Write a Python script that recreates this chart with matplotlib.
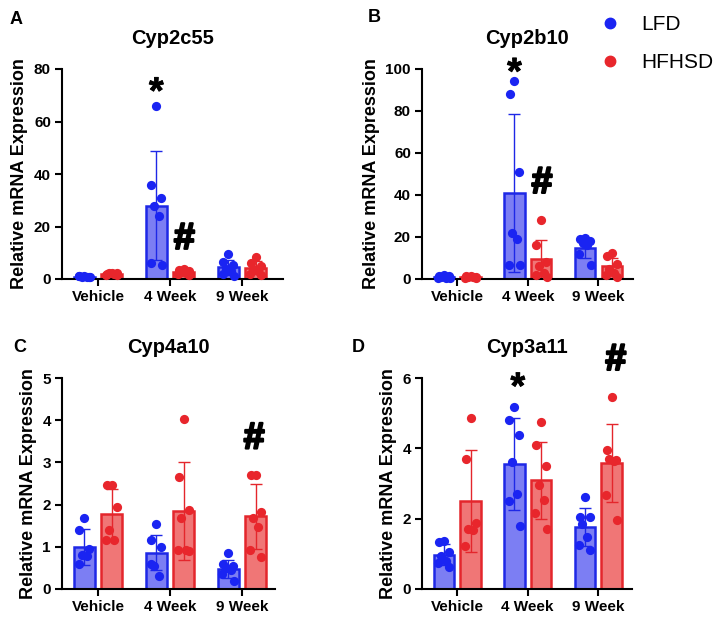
import numpy as np
import matplotlib
matplotlib.use("Agg")
import matplotlib.pyplot as plt
import matplotlib.patheffects as pe
from matplotlib.lines import Line2D

plt.rcParams['font.family'] = ['Liberation Sans', 'DejaVu Sans']
plt.rcParams['font.weight'] = 'bold'

groups = ["Vehicle", "4 Week", "9 Week"]
genes = ["Cyp2c55", "Cyp2b10", "Cyp4a10", "Cyp3a11"]
letters = ["A", "B", "C", "D"]

# Cyp2c55
c55_lfd_pts = [[1.3, 1.0, 0.8, 0.6, 0.9, 1.1, 0.7],
               [66, 36, 31, 28, 24, 6, 5.5],
               [9.5, 6.5, 5.5, 4.0, 3.0, 2.0, 1.0]]
c55_hfhsd_pts = [[2.3, 2.0, 1.7, 2.2, 1.9, 1.6, 2.1],
                 [4.0, 3.5, 3.0, 2.5, 2.2, 1.8, 1.5],
                 [8.5, 6.2, 5.0, 4.0, 3.0, 2.0, 1.5]]
c55_lfd_mean = [0.9, 28.0, 4.5]
c55_lfd_sd = [0.25, 20.6, 2.8]
c55_hfhsd_mean = [2.0, 2.6, 4.3]
c55_hfhsd_sd = [0.25, 0.9, 2.5]

# Cyp2b10
b10_lfd_pts = [[1.8, 1.5, 1.2, 1.0, 0.7, 0.5, 0.3],
               [94.5, 88, 51, 22, 19, 6.5, 6.5],
               [19.5, 19, 18, 17, 16, 12, 6.5]]
b10_hfhsd_pts = [[1.5, 1.3, 1.1, 1.0, 0.8, 0.6, 0.5],
                 [28, 16, 8, 6, 3, 2, 1],
                 [12.5, 11, 7, 5, 3, 2, 1]]
b10_lfd_mean = [1.0, 41.0, 14.6]
b10_lfd_sd = [0.5, 37.5, 4.5]
b10_hfhsd_mean = [1.0, 9.5, 6.0]
b10_hfhsd_sd = [0.35, 9.2, 4.0]

# Cyp4a10
a10_lfd_pts = [[1.68, 1.4, 0.95, 0.8, 0.78, 0.6],
               [1.55, 1.15, 1.0, 0.55, 0.3, 0.6],
               [0.85, 0.6, 0.55, 0.5, 0.45, 0.35, 0.18]]
a10_hfhsd_pts = [[2.46, 2.47, 1.94, 1.4, 1.17, 1.17],
                 [4.03, 2.65, 1.88, 1.68, 0.92, 0.92, 0.9],
                 [2.69, 2.71, 1.82, 1.68, 1.48, 0.93, 0.77]]
a10_lfd_mean = [1.0, 0.86, 0.47]
a10_lfd_sd = [0.42, 0.41, 0.21]
a10_hfhsd_mean = [1.77, 1.85, 1.72]
a10_hfhsd_sd = [0.6, 1.17, 0.78]

# Cyp3a11
a11_lfd_pts = [[1.37, 1.33, 1.05, 0.95, 0.8, 0.75, 0.62],
               [5.18, 4.8, 4.39, 3.6, 2.69, 2.49, 1.78],
               [2.61, 2.06, 2.06, 1.85, 1.49, 1.25, 1.12]]
a11_hfhsd_pts = [[4.87, 3.71, 1.89, 1.7, 1.68, 1.21],
                 [4.75, 4.09, 3.51, 2.95, 2.53, 2.15, 1.7],
                 [5.46, 3.95, 3.67, 3.7, 3.65, 2.67, 1.95]]
a11_lfd_mean = [0.98, 3.55, 1.76]
a11_lfd_sd = [0.29, 1.3, 0.55]
a11_hfhsd_mean = [2.5, 3.09, 3.58]
a11_hfhsd_sd = [1.45, 1.09, 1.1]

y_max = [80, 100, 5, 6]
y_step = [20, 20, 1, 2]

# significance marks: (panel, text, x, y)
marks = [(0, "*", 0.81, 67), (0, "#", 1.2, 11.5),
         (1, "*", 0.81, 93), (1, "#", 1.2, 41),
         (2, "#", 2.17, 3.33),
         (3, "*", 0.86, 5.42), (3, "#", 2.25, 6.23)]

blue_edge = "#1e28e6"
blue_fill = "#7c7ef3"
blue_pt = "#1a24f2"
red_edge = "#e4262c"
red_fill = "#f07676"
red_pt = "#e8262c"

W, H = 720, 620


def px_rect(l, t, r, b):
    return [l / W, 1 - b / H, (r - l) / W, (b - t) / H]


def jitter(n):
    pat = [0.0, -0.07, 0.07, -0.035, 0.035, -0.08, 0.08]
    return np.array(pat[:n])


def draw_panel(ax, title, lfd_pts, hfhsd_pts, lfd_mean, lfd_sd, hf_mean, hf_sd, ymax, ystep, xmax):
    x = np.arange(len(groups))
    off = 0.19
    bw = 0.29
    ax.bar(x - off, lfd_mean, bw, color=blue_fill, edgecolor=blue_edge, linewidth=1.8, zorder=1)
    ax.bar(x + off, hf_mean, bw, color=red_fill, edgecolor=red_edge, linewidth=1.8, zorder=1)
    ax.errorbar(x - off, lfd_mean, yerr=lfd_sd, fmt='none', ecolor=blue_edge,
                elinewidth=1, capsize=4, capthick=1, zorder=2)
    ax.errorbar(x + off, hf_mean, yerr=hf_sd, fmt='none', ecolor=red_edge,
                elinewidth=1, capsize=4, capthick=1, zorder=2)
    for i in range(len(groups)):
        p = np.array(lfd_pts[i])
        ax.scatter(x[i] - off + jitter(len(p)), p, s=44, color=blue_pt, zorder=3, clip_on=False, linewidths=0)
        p = np.array(hfhsd_pts[i])
        ax.scatter(x[i] + off + jitter(len(p)), p, s=44, color=red_pt, zorder=3, clip_on=False, linewidths=0)

    ax.set_xlim(-0.5, xmax)
    ax.set_ylim(0, ymax)
    ax.set_yticks(np.arange(0, ymax + ystep / 2, ystep))
    ax.set_xticks(x)
    ax.set_xticklabels(groups)
    ax.spines['top'].set_visible(False)
    ax.spines['right'].set_visible(False)
    ax.spines['left'].set_linewidth(1.5)
    ax.spines['bottom'].set_linewidth(1.5)
    ax.tick_params(axis='both', width=1.5, length=5, labelsize=11, pad=3)
    for lab in ax.get_xticklabels() + ax.get_yticklabels():
        lab.set_fontweight('bold')
    ax.set_ylabel("Relative mRNA Expression", fontsize=13, fontweight='bold', labelpad=4)
    ax.set_title(title, fontsize=14.5, fontweight='bold', pad=18)


fig = plt.figure(figsize=(7.2, 6.2), dpi=100)

rects = [px_rect(62, 69, 283, 279), px_rect(422, 69, 633, 279),
         px_rect(62, 378, 275, 589), px_rect(422, 378, 632, 589)]
xmaxes = [2.57, 2.49, 2.46, 2.48]
letter_pos = [(10, 20), (368, 18), (13, 348), (352, 348)]

data = [(c55_lfd_pts, c55_hfhsd_pts, c55_lfd_mean, c55_lfd_sd, c55_hfhsd_mean, c55_hfhsd_sd),
        (b10_lfd_pts, b10_hfhsd_pts, b10_lfd_mean, b10_lfd_sd, b10_hfhsd_mean, b10_hfhsd_sd),
        (a10_lfd_pts, a10_hfhsd_pts, a10_lfd_mean, a10_lfd_sd, a10_hfhsd_mean, a10_hfhsd_sd),
        (a11_lfd_pts, a11_hfhsd_pts, a11_lfd_mean, a11_lfd_sd, a11_hfhsd_mean, a11_hfhsd_sd)]

axes = []
for k in range(4):
    ax = fig.add_axes(rects[k])
    draw_panel(ax, genes[k], *data[k], y_max[k], y_step[k], xmaxes[k])
    axes.append(ax)
    fig.text(letter_pos[k][0] / W, 1 - letter_pos[k][1] / H, letters[k],
             fontsize=13, fontweight='bold', ha='left', va='center')

# heavier strokes for the significance symbols
for k, txt, mx, my in marks:
    if txt == "*":
        fs, lw = 27, 0.6
    else:
        fs, lw = 27, 1.6
    axes[k].text(mx, my, txt, fontsize=fs, fontweight='bold', ha='center', va='baseline',
                 clip_on=False, zorder=5,
                 path_effects=[pe.withStroke(linewidth=lw, foreground='black')])

handles = [Line2D([], [], marker='o', ls='', color=blue_pt, markersize=7.5, label='LFD'),
           Line2D([], [], marker='o', ls='', color=red_pt, markersize=7.5, label='HFHSD')]
fig.legend(handles=handles, loc='upper left', bbox_to_anchor=(600 / W, 1 - 15 / H),
           frameon=False, prop={'size': 15, 'weight': 'normal'}, handlelength=1,
           handletextpad=1.0, labelspacing=0.91, borderpad=0, borderaxespad=0)

fig.savefig("out.png", dpi=100)
